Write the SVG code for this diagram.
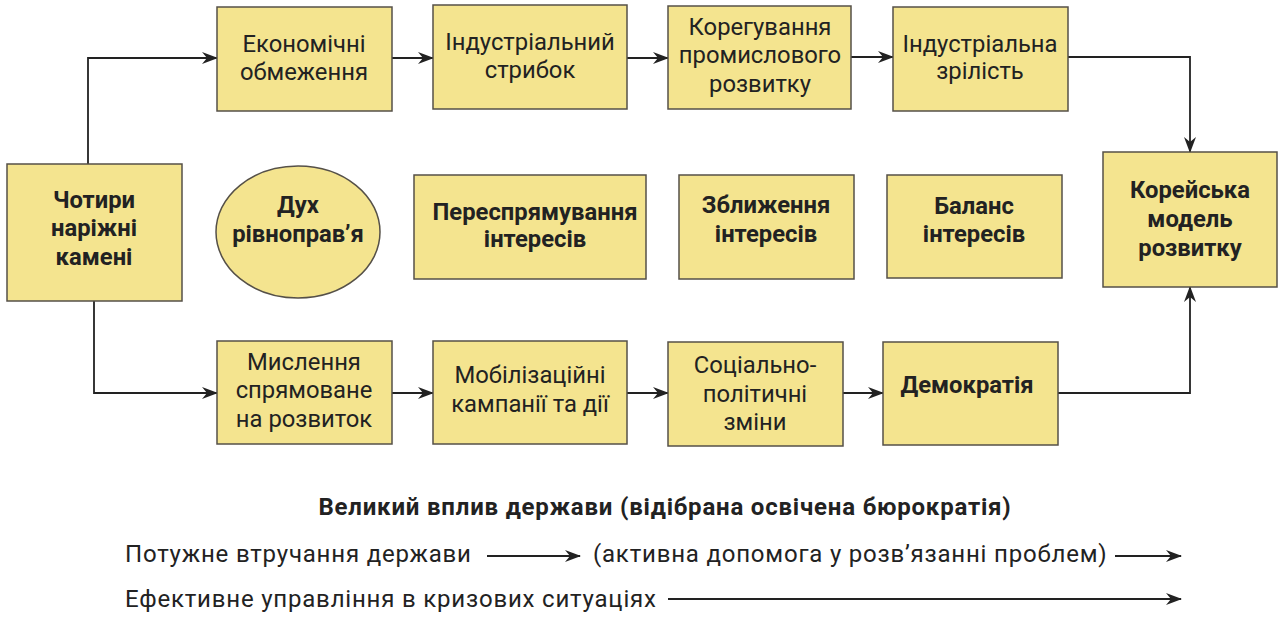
<svg xmlns="http://www.w3.org/2000/svg" width="1285" height="618" viewBox="0 0 1285 618">
<defs>
<marker id="ah" viewBox="0 0 16 12" refX="15" refY="6" markerWidth="16" markerHeight="12" markerUnits="userSpaceOnUse" orient="auto">
<path d="M0,0 L16,6 L0,12 L5,6 z" fill="#222"/>
</marker>
<style>
.box{fill:#f4e48f;stroke:#555048;stroke-width:1.5}
.t{font-family:Roboto,"Liberation Sans",sans-serif;font-size:23.8px;fill:#222;text-anchor:middle}
.b{font-weight:bold}
.g{font-size:24px;letter-spacing:0.8px}
.l{text-anchor:start}
.c{fill:none;stroke:#222;stroke-width:1.8}
</style>
</defs>
<rect width="1285" height="618" fill="#fff"/>
<g id="connectors">
<path class="c" d="M88,164 V58 H217" marker-end="url(#ah)"/>
<path class="c" d="M392,58 H433" marker-end="url(#ah)"/>
<path class="c" d="M627,58 H668" marker-end="url(#ah)"/>
<path class="c" d="M851,57 H893" marker-end="url(#ah)"/>
<path class="c" d="M1068,57 H1190 V152" marker-end="url(#ah)"/>
<path class="c" d="M94,301 V393 H217" marker-end="url(#ah)"/>
<path class="c" d="M392,393 H433" marker-end="url(#ah)"/>
<path class="c" d="M627,393 H668" marker-end="url(#ah)"/>
<path class="c" d="M843,393 H883" marker-end="url(#ah)"/>
<path class="c" d="M1058,393 H1190 V287" marker-end="url(#ah)"/>
<path class="c" d="M487,556 H580" marker-end="url(#ah)"/>
<path class="c" d="M1115,556 H1181" marker-end="url(#ah)"/>
<path class="c" d="M668,599 H1181" marker-end="url(#ah)"/>
</g>
<g id="n-chotyry"><rect class="box" x="7" y="164" width="175" height="137"/><text class="t b" x="94"><tspan x="94" y="208">Чотири</tspan><tspan x="94" y="236">наріжні</tspan><tspan x="94" y="265">камені</tspan></text></g>
<g id="n-ekon"><rect class="box" x="217" y="7" width="175" height="104"/><text class="t" x="304"><tspan x="304" y="52">Економічні</tspan><tspan x="304" y="80">обмеження</tspan></text></g>
<g id="n-indstryb"><rect class="box" x="433" y="5" width="194" height="104"/><text class="t" x="530"><tspan x="530" y="50">Індустріальний</tspan><tspan x="530" y="78">стрибок</tspan></text></g>
<g id="n-koreg"><rect class="box" x="668" y="6" width="183" height="103"/><text class="t" x="760"><tspan x="760" y="35">Корегування</tspan><tspan x="760" y="63">промислового</tspan><tspan x="760" y="92">розвитку</tspan></text></g>
<g id="n-indzril"><rect class="box" x="893" y="7" width="175" height="104"/><text class="t" x="980"><tspan x="980" y="52">Індустріальна</tspan><tspan x="980" y="79">зрілість</tspan></text></g>
<g id="n-dukh"><ellipse class="box" cx="298" cy="232" rx="82" ry="66"/><text class="t b" x="298"><tspan x="298" y="213">Дух</tspan><tspan x="298" y="242">рівноправ’я</tspan></text></g>
<g id="n-peresp"><rect class="box" x="414" y="175" width="232" height="104"/><text class="t b" x="535"><tspan x="535" y="220">Переспрямування</tspan><tspan x="535" y="247">інтересів</tspan></text></g>
<g id="n-zblyzh"><rect class="box" x="679" y="175" width="175" height="104"/><text class="t b" x="766"><tspan x="766" y="213">Зближення</tspan><tspan x="766" y="242">інтересів</tspan></text></g>
<g id="n-balans"><rect class="box" x="887" y="175" width="175" height="103"/><text class="t b" x="974"><tspan x="974" y="214">Баланс</tspan><tspan x="974" y="242">інтересів</tspan></text></g>
<g id="n-koreyska"><rect class="box" x="1103" y="152" width="174" height="135"/><text class="t b" x="1190"><tspan x="1190" y="198">Корейська</tspan><tspan x="1190" y="227">модель</tspan><tspan x="1190" y="256">розвитку</tspan></text></g>
<g id="n-myslennia"><rect class="box" x="217" y="341" width="175" height="103"/><text class="t" x="304"><tspan x="304" y="370">Мислення</tspan><tspan x="304" y="398">спрямоване</tspan><tspan x="304" y="427">на розвиток</tspan></text></g>
<g id="n-mobil"><rect class="box" x="433" y="341" width="194" height="103"/><text class="t" x="530"><tspan x="530" y="383">Мобілізаційні</tspan><tspan x="530" y="412">кампанії та дії</tspan></text></g>
<g id="n-sots"><rect class="box" x="668" y="342" width="175" height="104"/><text class="t" x="755"><tspan x="755" y="373">Соціально-</tspan><tspan x="755" y="402">політичні</tspan><tspan x="755" y="430">зміни</tspan></text></g>
<g id="n-demokr"><rect class="box" x="883" y="342" width="175" height="103"/><text class="t b" x="967" y="393">Демократія</text></g>
<g id="legend">
<text class="t b g" x="665" y="515">Великий вплив держави (відібрана освічена бюрократія)</text>
<text class="t g l" x="125" y="562">Потужне втручання держави</text>
<text class="t g l" x="593" y="562">(активна допомога у розв’язанні проблем)</text>
<text class="t g l" x="125" y="607">Ефективне управління в кризових ситуаціях</text>
</g>
</svg>
